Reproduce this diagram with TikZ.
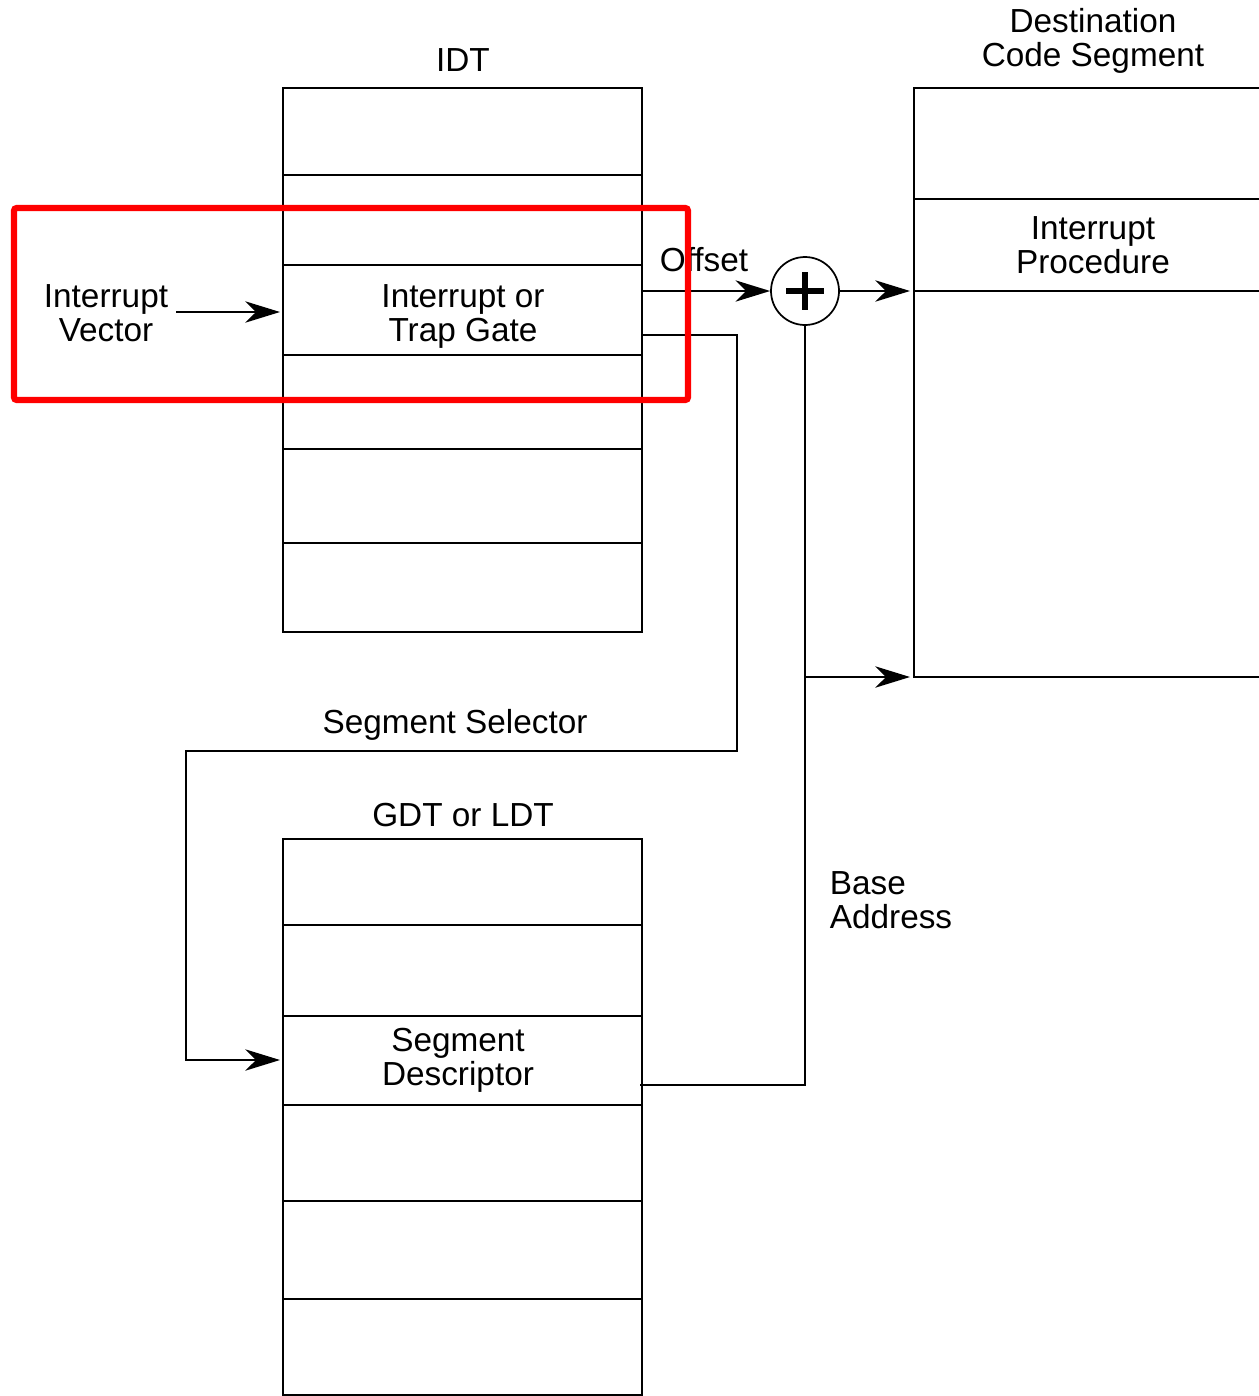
\documentclass[tikz,border=0pt]{standalone}
\usepackage{fontspec}
\setmainfont{Liberation Sans}
\usetikzlibrary{arrows.meta}
\tikzset{
  arr/.style={-{Stealth[length=26pt,width=16pt,inset=8pt]}},
  lbl/.style={inner sep=0pt, align=center, font=\fontsize{25}{25.5}\selectfont},
  sumnode/.style={circle, draw, minimum size=51pt, inner sep=0pt},
  hilite/.style={draw=red, line width=4.6pt, rounded corners=2pt}
}
\begin{document}
\begin{tikzpicture}[x=0.75pt,y=-0.75pt,line width=1.3pt]
\useasboundingbox (0,0) rectangle (1259,1396);

% IDT table
\draw (283,88) rectangle (642,632);
\foreach \yy in {175,265,355,449,543} \draw (283,\yy) -- (643,\yy);
\node[lbl] (idt) at (463,60) {IDT};

% GDT / LDT table
\draw (283,1396) -- (283,839) -- (642,839) -- (642,1396);
\draw (283,1395) -- (642,1395);
\foreach \yy in {925,1016,1105,1201,1299} \draw (283,\yy) -- (643,\yy);
\node[lbl] (gdt) at (463,815) {GDT or LDT};

% destination code segment
\draw (1259,88) -- (914,88) -- (914,677) -- (1259,677);
\foreach \yy in {199,291} \draw (914,\yy) -- (1259,\yy);
\node[lbl] (dcs) at (1093,41) {Destination\\Code Segment};
\node[lbl] (proc) at (1093,245) {Interrupt\\Procedure};

% text inside the tables
\node[lbl] (gate) at (463,316) {Interrupt or\\Trap Gate};
\node[lbl] (desc) at (458,1060) {Segment\\Descriptor};
\node[lbl] (vec) at (106,313) {Interrupt\\Vector};

% labels on connectors
\node[lbl] (offs) at (704,260) {Offset};
\node[lbl] (selt) at (455,725) {Segment Selector};
\node[lbl, anchor=west, align=left] (base) at (829,900) {Base\\Address};

% adder
\node[sumnode] (sum) at (805,291) {};
\draw[line width=4.4pt] ([xshift=-14pt]sum.center) -- ([xshift=14pt]sum.center)
  ([yshift=14pt]sum.center) -- ([yshift=-14pt]sum.center);

% connector end points
\coordinate (vecOut) at (176,312);
\coordinate (gateIn) at (280,312);
\coordinate (gateOff) at (642,291);
\coordinate (gateSel) at (642,335);
\coordinate (selTurn) at (737,751);
\coordinate (selCorner) at (186,751);
\coordinate (descIn) at (280,1060);
\coordinate (descOut) at (640,1085);
\coordinate (csIn) at (910,291);
\coordinate (baseTap) at (805,677);
\coordinate (csBase) at (910,677);

% connectors
\draw[arr] (vecOut) -- (gateIn);
\draw[arr] (gateOff) -- (sum.west);
\draw[arr] (sum.east) -- (csIn);
\draw[arr] (gateSel) -| (selTurn) -- (selCorner) |- (descIn);
\draw (descOut) -| (sum.south);
\draw[arr] (baseTap) -- (csBase);

% highlight frame
\draw[hilite] (14,208) rectangle (688,400);
\end{tikzpicture}
\end{document}
